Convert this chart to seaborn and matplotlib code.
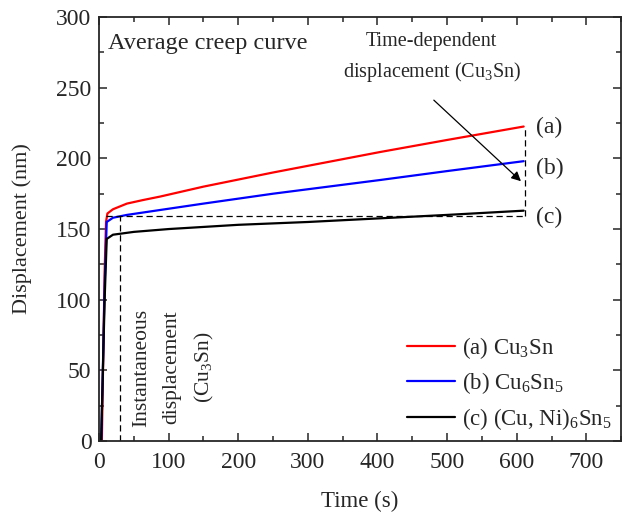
import numpy as np
import pandas as pd
import matplotlib
matplotlib.use("Agg")
import matplotlib.pyplot as plt
import seaborn as sns
from matplotlib.ticker import MultipleLocator

# values
t_a = [0, 4, 6, 8, 10, 12, 20, 40, 63, 88, 150, 250, 404, 500, 610]
d_a = [0, 0, 60, 120, 155, 161, 164, 168, 170.5, 173, 180, 190, 204.5, 213, 222.5]
t_b = [0, 3, 5, 8, 11, 20, 40, 88, 150, 250, 404, 500, 610]
d_b = [0, 0, 40, 110, 155, 158, 160, 163.5, 168, 175, 184.7, 191, 198]
t_c = [0, 3, 5, 8, 11, 20, 50, 100, 200, 300, 400, 500, 610]
d_c = [0, 0, 40, 100, 143, 146, 148, 150, 153, 155, 157.5, 160, 163]
labels = ["(a) Cu$_3$Sn", "(b) Cu$_6$Sn$_5$", "(c) (Cu, Ni)$_6$Sn$_5$"]
colors = ["#ff0000", "#0000ff", "#000000"]

inst_t = 30
inst_d = 159
end_t = 612
end_d = 222.5

df = pd.concat([
    pd.DataFrame({"t": t_a, "d": d_a, "s": labels[0]}),
    pd.DataFrame({"t": t_b, "d": d_b, "s": labels[1]}),
    pd.DataFrame({"t": t_c, "d": d_c, "s": labels[2]}),
])

sns.set_style("ticks")
plt.rcParams["font.family"] = ["Liberation Serif", "DejaVu Serif"]
plt.rcParams["mathtext.fontset"] = "custom"
plt.rcParams["mathtext.rm"] = "Liberation Serif"
plt.rcParams["mathtext.it"] = "Liberation Serif:italic"

fig = plt.figure(figsize=(6.23, 5.13), dpi=100)
ax = fig.add_axes([0.159, 0.140, 0.838, 0.827])

sns.lineplot(data=df, x="t", y="d", hue="s", palette=colors, lw=1.6,
             sort=False, estimator=None, ax=ax)

dash = dict(color="black", lw=0.9, ls=(0, (5, 3)))
ax.plot([inst_t, inst_t], [0, inst_d], **dash)
ax.plot([10, end_t], [inst_d, inst_d], **dash)
ax.plot([end_t, end_t], [inst_d, end_d], **dash)

ax.annotate("", xy=(609, 182.5), xytext=(478, 242.5),
            arrowprops=dict(arrowstyle="-|>", color="black", lw=0.9,
                            mutation_scale=14))

ax.text(13, 281, "Average creep curve", fontsize=17.5, va="center", ha="left")
ax.text(478, 271, "Time-dependent\ndisplacement (Cu$_3$Sn)", fontsize=14.5,
        ha="center", va="center", linespacing=1.5)
ax.text(108, 52, "Instantaneous\ndisplacement\n(Cu$_3$Sn)", fontsize=15.5,
        rotation=90, ha="center", va="center", linespacing=1.75)
for y, s in zip([222, 193, 158.5], ["(a)", "(b)", "(c)"]):
    ax.text(628, y, s, fontsize=17, ha="left", va="center")

ax.set_xlim(0, 750)
ax.set_ylim(0, 300)
ax.xaxis.set_major_locator(MultipleLocator(100))
ax.xaxis.set_minor_locator(MultipleLocator(50))
ax.yaxis.set_major_locator(MultipleLocator(50))
ax.yaxis.set_minor_locator(MultipleLocator(25))
ax.tick_params(which="both", direction="in", top=True, right=True,
               labelsize=17, width=1.1)
ax.tick_params(which="major", length=6)
ax.tick_params(which="minor", length=3.5)
ax.tick_params(axis="x", pad=8)
ax.tick_params(axis="y", pad=5.5)
for sp in ax.spines.values():
    sp.set_linewidth(1.3)
ax.set_xlabel("Time (s)", fontsize=16.5, labelpad=13)
ax.set_ylabel("Displacement (nm)", fontsize=16, labelpad=17)

leg = ax.legend(loc="lower right", bbox_to_anchor=(1.012, -0.015), frameon=False,
                fontsize=16.5, handlelength=2.1, handletextpad=0.3,
                labelspacing=0.4, borderaxespad=0.3)
for h in leg.get_lines():
    h.set_linewidth(1.6)

fig.savefig("out.png", dpi=100)
